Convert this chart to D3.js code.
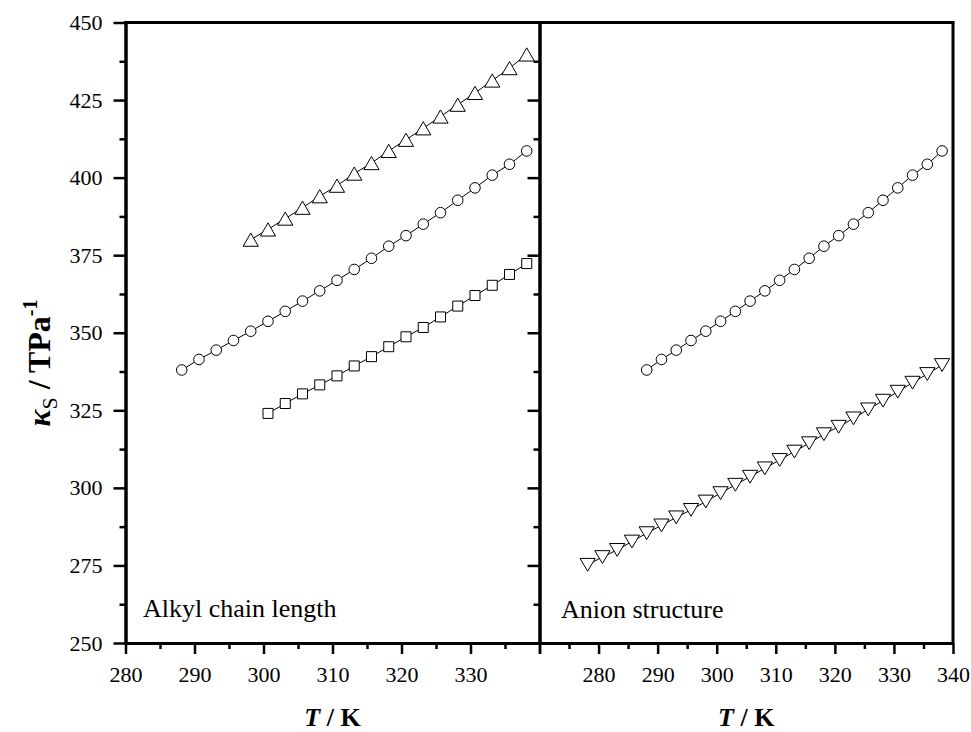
<!DOCTYPE html>
<html>
<head>
<meta charset="utf-8">
<script src="https://cdn.jsdelivr.net/npm/d3@7"></script>
<style>
  html, body { margin: 0; padding: 0; background: #fff; }
  svg { display: block; }
  .axis path, .axis line { stroke: #000; }
  .axis text { font-family: "Liberation Serif", "Times New Roman", serif; fill: #000; }
</style>
</head>
<body>
<svg id="chart" width="971" height="732"></svg>
<script>
// Temperatures (K) and isentropic compressibility values (TPa^-1)
const tCircle   = [288.15, 290.65, 293.15, 295.65, 298.15, 300.65, 303.15, 305.65, 308.15, 310.65, 313.15,
                   315.65, 318.15, 320.65, 323.15, 325.65, 328.15, 330.65, 333.15, 335.65, 338.15];
const kCircle   = [338.0, 341.4, 344.4, 347.5, 350.5, 353.7, 356.9, 360.2, 363.5, 366.9, 370.4,
                   374.0, 377.9, 381.3, 385.0, 388.7, 392.7, 396.7, 400.8, 404.3, 408.6];

const tTriUp    = [298.15, 300.65, 303.15, 305.65, 308.15, 310.65, 313.15, 315.65, 318.15, 320.65, 323.15,
                   325.65, 328.15, 330.65, 333.15, 335.65, 338.15];
const kTriUp    = [380.0, 383.3, 386.8, 390.3, 394.0, 397.4, 401.3, 404.7, 408.6, 412.2, 415.9,
                   419.7, 423.5, 427.3, 431.3, 435.3, 439.7];

const tSquare   = [300.65, 303.15, 305.65, 308.15, 310.65, 313.15, 315.65, 318.15, 320.65, 323.15, 325.65,
                   328.15, 330.65, 333.15, 335.65, 338.15];
const kSquare   = [324.0, 327.2, 330.3, 333.2, 336.1, 339.3, 342.3, 345.5, 348.7, 351.7, 355.1,
                   358.6, 362.0, 365.3, 368.8, 372.3];

const tTriDown  = [278.15, 280.65, 283.15, 285.65, 288.15, 290.65, 293.15, 295.65, 298.15, 300.65, 303.15,
                   305.65, 308.15, 310.65, 313.15, 315.65, 318.15, 320.65, 323.15, 325.65, 328.15,
                   330.65, 333.15, 335.65, 338.15];
const kTriDown  = [275.2, 277.7, 280.0, 282.7, 285.4, 287.9, 290.5, 292.9, 295.6, 298.3, 301.0,
                   303.6, 306.3, 309.0, 311.7, 314.4, 317.3, 319.7, 322.4, 325.3, 328.1,
                   331.0, 333.9, 336.7, 339.6];

const yTicks       = [250, 275, 300, 325, 350, 375, 400, 425, 450];
const yMinorTicks  = [262.5, 287.5, 312.5, 337.5, 362.5, 387.5, 412.5, 437.5];
const xTicksLeft   = [280, 290, 300, 310, 320, 330, 340];
const xMinorLeft   = [285, 295, 305, 315, 325, 335];
const xTicksRight  = [270, 280, 290, 300, 310, 320, 330, 340];
const xMinorRight  = [275, 285, 295, 305, 315, 325, 335];

const panelLabels  = ["Alkyl chain length", "Anion structure"];

const svg = d3.select("#chart");
const serif = '"Liberation Serif", "Times New Roman", serif';

const plotTop = 22.5, plotBottom = 643, plotLeft = 125.5, plotMid = 539.5, plotRight = 953;

const y  = d3.scaleLinear().domain([250, 450]).range([plotBottom, plotTop]);
const xL = d3.scaleLinear().domain([280, 340]).range([plotLeft, plotMid]);
const xR = d3.scaleLinear().domain([270, 340]).range([plotMid, plotRight]);

// custom marker shapes centred on their bounding boxes
const triUp = { draw(ctx, size) { const w = 7.6, h = 6.6;
  ctx.moveTo(0, -h); ctx.lineTo(w, h); ctx.lineTo(-w, h); ctx.closePath(); } };
const triDown = { draw(ctx, size) { const w = 7.6, h = 6.4;
  ctx.moveTo(0, h); ctx.lineTo(w, -h); ctx.lineTo(-w, -h); ctx.closePath(); } };
const square = { draw(ctx, size) { const s = 5;
  ctx.rect(-s, -s, 2 * s, 2 * s); } };

function drawSeries(g, xs, ts, ks, type, size) {
  const pts = ts.map((t, i) => [t, ks[i]]);
  g.append("path")
    .datum(pts)
    .attr("fill", "none")
    .attr("stroke", "#000")
    .attr("stroke-width", 1)
    .attr("d", d3.line().x(d => xs(d[0])).y(d => y(d[1])));
  g.selectAll(null)
    .data(pts)
    .join("path")
    .attr("transform", d => `translate(${xs(d[0])},${y(d[1])})`)
    .attr("d", d3.symbol().type(type).size(size))
    .attr("fill", "#fff")
    .attr("stroke", "#000")
    .attr("stroke-width", 1);
}

// data
const gL = svg.append("g");
drawSeries(gL, xL, tTriUp, kTriUp, triUp, 100);
drawSeries(gL, xL, tCircle, kCircle, d3.symbolCircle, 88);
drawSeries(gL, xL, tSquare, kSquare, square, 100);

const gR = svg.append("g");
drawSeries(gR, xR, tCircle, kCircle, d3.symbolCircle, 88);
drawSeries(gR, xR, tTriDown, kTriDown, triDown, 100);

// axes
const fontSize = 22;
function styleAxis(g, w) {
  g.attr("class", "axis");
  g.selectAll("path").attr("stroke-width", w);
  g.selectAll("line").attr("stroke-width", 2.5);
  g.selectAll("text").style("font-size", fontSize + "px");
}

// left y axis
svg.append("g").attr("transform", `translate(${plotLeft},0)`)
  .call(d3.axisLeft(y).tickValues(yTicks).tickSize(12).tickSizeOuter(0).tickPadding(11))
  .call(g => styleAxis(g, 3));
svg.append("g").attr("transform", `translate(${plotLeft},0)`)
  .call(d3.axisLeft(y).tickValues(yMinorTicks).tickSize(6).tickSizeOuter(0).tickFormat(""))
  .call(g => styleAxis(g, 3));

// divider between panels, ticks pointing into left panel
svg.append("g").attr("transform", `translate(${plotMid},0)`)
  .call(d3.axisLeft(y).tickValues(yTicks.slice(1, -1)).tickSize(12).tickSizeOuter(0).tickFormat(""))
  .call(g => styleAxis(g, 3));
svg.append("g").attr("transform", `translate(${plotMid},0)`)
  .call(d3.axisLeft(y).tickValues(yMinorTicks).tickSize(6).tickSizeOuter(0).tickFormat(""))
  .call(g => styleAxis(g, 3));

// right border
svg.append("line")
  .attr("x1", plotRight).attr("x2", plotRight).attr("y1", y(450)).attr("y2", y(250))
  .attr("stroke", "#000").attr("stroke-width", 3);

// top border
svg.append("line")
  .attr("x1", plotLeft - 1.5).attr("x2", plotRight + 1.5).attr("y1", y(450)).attr("y2", y(450))
  .attr("stroke", "#000").attr("stroke-width", 3);

// bottom x axes
svg.append("g").attr("transform", `translate(0,${plotBottom})`)
  .call(d3.axisBottom(xL).tickValues(xTicksLeft).tickSize(11).tickSizeOuter(0).tickPadding(12)
    .tickFormat(d => d === 340 ? "" : d))
  .call(g => styleAxis(g, 3));
svg.append("g").attr("transform", `translate(0,${plotBottom})`)
  .call(d3.axisBottom(xL).tickValues(xMinorLeft).tickSize(6).tickSizeOuter(0).tickFormat(""))
  .call(g => styleAxis(g, 3));
svg.append("g").attr("transform", `translate(0,${plotBottom})`)
  .call(d3.axisBottom(xR).tickValues(xTicksRight).tickSize(11).tickSizeOuter(0).tickPadding(12)
    .tickFormat(d => d === 270 ? "" : d))
  .call(g => styleAxis(g, 3));
svg.append("g").attr("transform", `translate(0,${plotBottom})`)
  .call(d3.axisBottom(xR).tickValues(xMinorRight).tickSize(6).tickSizeOuter(0).tickFormat(""))
  .call(g => styleAxis(g, 3));

// panel labels
svg.append("text").attr("x", 143).attr("y", 617)
  .style("font-family", serif).style("font-size", "26px").text(panelLabels[0]);
svg.append("text").attr("x", 561).attr("y", 618)
  .style("font-family", serif).style("font-size", "26px").text(panelLabels[1]);

// x axis titles
function xTitle(cx) {
  const t = svg.append("text").attr("x", cx).attr("y", 726)
    .attr("text-anchor", "middle")
    .style("font-family", serif).style("font-size", "26px").style("font-weight", "bold");
  t.append("tspan").style("font-style", "italic").text("T");
  t.append("tspan").text(" / K");
}
xTitle((plotLeft + plotMid) / 2);
xTitle((plotMid + plotRight) / 2);

// y axis title
const yt = svg.append("text")
  .attr("transform", "translate(50,363) rotate(-90)")
  .attr("text-anchor", "middle")
  .style("font-family", serif).style("font-size", "32px").style("font-weight", "bold");
yt.append("tspan").style("font-style", "italic").text("κ");
yt.append("tspan").attr("dy", 7).style("font-size", "22px").style("font-weight", "normal").text("S");
yt.append("tspan").attr("dy", -7).text(" / TPa");
yt.append("tspan").attr("dy", -13).style("font-size", "20px").text("-1");
</script>
</body>
</html>
